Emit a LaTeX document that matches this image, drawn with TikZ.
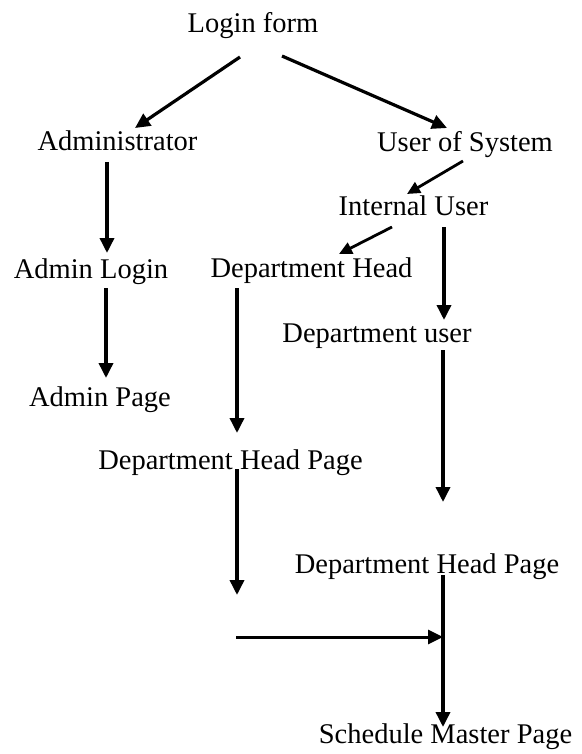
\documentclass[tikz,border=0pt]{standalone}
\usepackage{fontspec}
\setmainfont{Liberation Serif}
\usetikzlibrary{arrows.meta,calc}
\begin{document}
\begin{tikzpicture}[x=1pt,y=-1pt,
  lbl/.style={anchor=base,inner sep=0pt,font=\fontsize{28.5}{30}\selectfont},
  arr/.style={line width=3.5pt,-{Triangle[length=15pt,width=14pt]}},
  arrs/.style={line width=2.8pt,-{Triangle[length=13pt,width=12pt]}}]
\useasboundingbox (0,0) rectangle (581,754);

% labels
\node[lbl] (login)  at (253,33)   {Login form};
\node[lbl] (admin)  at (117.5,151){Administrator};
\node[lbl] (uos)    at (465,152)  {User of System};
\node[lbl] (iu)     at (413.5,215){Internal User};
\node[lbl] (alogin) at (91,278)   {Admin Login};
\node[lbl] (dh)     at (311.5,277){Department Head};
\node[lbl] (du)     at (377,342)  {Department user};
\node[lbl] (apage)  at (100,406)  {Admin Page};
\node[lbl] (dhpa)   at (230.5,469){Department Head Page};
\node[lbl] (dhpb)   at (427,573)  {Department Head Page};
\node[lbl] (smp)    at (445.5,743){Schedule Master Page};

% free ends of the joining arrows
\coordinate (dhpaend) at (237,595);
\coordinate (joinfrom) at (236,637);
\coordinate (jointo) at (443,637);

% connectors
\draw[arr,line width=3.2pt] ($(login.base)+(-13,24)$) -- ($(admin.base)+(17.5,-23)$);
\draw[arr,line width=3.2pt] ($(login.base)+(29,23)$) -- ($(uos.base)+(-18,-24)$);
\draw[arr] ($(admin.base)+(-10.5,11)$) -- ($(alogin.base)+(16,-25)$);
\draw[arrs] ($(uos.base)+(-2,9)$) -- ($(iu.base)+(-6.5,-21)$);
\draw[arrs] ($(iu.base)+(-21.5,12)$) -- ($(dh.base)+(27.5,-23)$);
\draw[arr] ($(iu.base)+(30.5,12)$) -- ($(du.base)+(67,-22)$);
\draw[arr] ($(alogin.base)+(15,10)$) -- ($(apage.base)+(6,-28)$);
\draw[arr] ($(dh.base)+(-74.5,11)$) -- ($(dhpa.base)+(6.5,-36)$);
\draw[arr] ($(du.base)+(66,8)$) -- ($(dhpb.base)+(16,-71)$);
\draw[arr] ($(dhpa.base)+(6.5,0)$) -- (dhpaend);
\draw[arr,line width=3pt] (joinfrom) -- (jointo);
\draw[arr] ($(dhpb.base)+(16,2)$) -- ($(smp.base)+(-2.5,-16)$);
\end{tikzpicture}
\end{document}
